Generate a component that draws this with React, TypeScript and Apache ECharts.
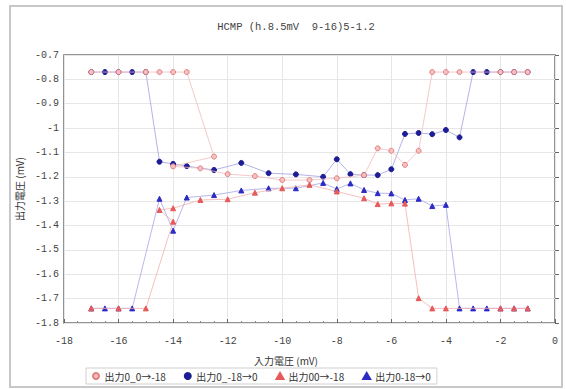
import React, { useEffect, useRef } from "react";
import * as echarts from "echarts";

const TITLE = "HCMP (h.8.5mV  9-16)5-1.2";
const X_NAME = "入力電圧 (mV)";
const Y_NAME = "出力電圧 (mV)";
const SERIES_NAMES = ["出力0_0→-18", "出力0_-18→0", "出力00→-18", "出力0-18→0"];

// Series A: pink circles (sweep 0 → -18)
const xA = [-1, -1.5, -2, -3.5, -4, -4.5, -5, -5.5, -6, -6.5, -7, -8, -9, -10, -11, -12, -13, -14, -12.5, -13.5, -14, -14.5, -15, -16, -17];
const yA = [-0.77, -0.77, -0.77, -0.77, -0.77, -0.77, -1.093, -1.151, -1.093, -1.083, -1.193, -1.206, -1.213, -1.213, -1.197, -1.189, -1.165, -1.157, -1.117, -0.77, -0.77, -0.77, -0.77, -0.77, -0.77];

// Series B: dark blue circles (sweep -18 → 0)
const xB = [-17, -16.5, -16, -15.5, -15, -14.5, -14, -13.5, -12.5, -11.5, -10.5, -9.5, -8.5, -8, -7.5, -7, -6.5, -6, -5.5, -5, -4.5, -4, -3.5, -3, -2.5, -2, -1.5, -1];
const yB = [-0.77, -0.77, -0.77, -0.77, -0.77, -1.138, -1.147, -1.156, -1.172, -1.143, -1.185, -1.19, -1.2, -1.128, -1.189, -1.193, -1.193, -1.169, -1.024, -1.02, -1.025, -1.008, -1.038, -0.77, -0.77, -0.77, -0.77, -0.77];

// Series C: red triangles (sweep 0 → -18)
const xC = [-1, -1.5, -2, -4, -4.5, -5, -5.5, -6, -6.5, -7, -8, -9, -10, -11, -12, -13, -14, -14.5, -14, -15, -16, -17];
const yC = [-1.74, -1.74, -1.74, -1.74, -1.74, -1.698, -1.31, -1.309, -1.312, -1.288, -1.26, -1.233, -1.247, -1.265, -1.292, -1.295, -1.329, -1.336, -1.384, -1.74, -1.74, -1.74];

// Series D: blue triangles (sweep -18 → 0)
const xD = [-17, -16.5, -16, -15.5, -14.5, -14, -13.5, -12.5, -11.5, -10.5, -9.5, -8.5, -8, -7.5, -7, -6.5, -6, -5.5, -5, -4.5, -4, -3.5, -3, -2.5, -2, -1.5, -1];
const yD = [-1.74, -1.74, -1.74, -1.74, -1.29, -1.421, -1.285, -1.275, -1.256, -1.247, -1.247, -1.225, -1.25, -1.227, -1.254, -1.267, -1.268, -1.295, -1.29, -1.32, -1.315, -1.74, -1.74, -1.74, -1.74, -1.74, -1.74];

const X_TICKS = ["-18", "-16", "-14", "-12", "-10", "-8", "-6", "-4", "-2", "0"];
const Y_TICKS = ["-0.7", "-0.8", "-0.9", "-1", "-1.1", "-1.2", "-1.3", "-1.4", "-1.5", "-1.6", "-1.7", "-1.8"];

const FONT = "'Noto Sans CJK JP', 'Noto Sans', sans-serif";
const MONO = "'Liberation Mono', 'DejaVu Sans Mono', monospace";

function pairs(xs: number[], ys: number[]) {
  return xs.map((x, i) => [x, ys[i]]);
}

export default function App() {
  const ref = useRef<HTMLDivElement>(null);
  useEffect(() => {
    if (!ref.current) return;
    const chart = echarts.init(ref.current, undefined, { renderer: "svg" });
    const styles = [
      { symbol: "circle", fill: "#f8c0c0", border: "#e08080", line: "#f2bcbc" },
      { symbol: "circle", fill: "#1c1c96", border: "#1c1c96", line: "#a0a0e0" },
      { symbol: "triangle", fill: "#e65a5a", border: "#e65a5a", line: "#f2b0b0" },
      { symbol: "triangle", fill: "#2c2cc4", border: "#2c2cc4", line: "#a6a6ea" },
    ];
    const datas = [pairs(xA, yA), pairs(xB, yB), pairs(xC, yC), pairs(xD, yD)];
    chart.setOption({
      animation: false,
      backgroundColor: "#ffffff",
      title: {
        text: TITLE,
        left: 291,
        top: 16,
        textAlign: "center",
        textStyle: { fontSize: 10.5, fontWeight: "normal", color: "#444", fontFamily: MONO },
      },
      graphic: [
        {
          type: "rect",
          shape: { x: 10, y: 6, width: 552, height: 381 },
          style: { fill: "none", stroke: "#c8c8c8", lineWidth: 2 },
          silent: true,
        },
        {
          type: "text",
          x: 286,
          y: 360,
          style: {
            text: X_NAME,
            fontSize: 10,
            fill: "#333",
            fontFamily: FONT,
            align: "center",
            verticalAlign: "middle",
          },
        },
      ],
      legend: {
        left: 86,
        top: 368,
        itemGap: 18,
        itemWidth: 7,
        itemHeight: 6,
        padding: [3, 6, 3, 6],
        borderColor: "#d0d0d0",
        borderWidth: 1,
        textStyle: { fontSize: 10, color: "#333", fontFamily: FONT },
        data: SERIES_NAMES.map((n, i) => ({ name: n, icon: styles[i].symbol })),
      },
      grid: {
        left: 64,
        top: 55,
        right: 11,
        bottom: 66,
        show: true,
        borderColor: "#707070",
        borderWidth: 1.5,
        backgroundColor: "#fff",
      },
      xAxis: {
        type: "value",
        min: -18,
        max: 0,
        interval: 2,
        axisLine: { show: false },
        axisTick: { show: true, inside: true, length: 4, lineStyle: { color: "#666" } },
        minorTick: { show: true, splitNumber: 4, length: 2, lineStyle: { color: "#888" } },
        splitLine: { show: true, lineStyle: { color: "#e6e6e6", width: 1 } },
        axisLabel: {
          fontSize: 10,
          color: "#444",
          margin: 13,
          fontFamily: MONO,
          formatter: (v: number) => X_TICKS[Math.round((v + 18) / 2)] ?? String(v),
        },
      },
      yAxis: {
        type: "value",
        min: -1.8,
        max: -0.7,
        interval: 0.1,
        name: Y_NAME,
        nameLocation: "middle",
        nameGap: 33,
        nameRotate: 90,
        nameTextStyle: { fontSize: 10, color: "#333", fontFamily: FONT },
        axisLine: { show: false },
        axisTick: { show: true, inside: true, length: 4, lineStyle: { color: "#666" } },
        splitLine: { show: true, lineStyle: { color: "#e6e6e6", width: 1 } },
        axisLabel: {
          fontSize: 10,
          color: "#444",
          margin: 5,
          fontFamily: MONO,
          formatter: (v: number) => Y_TICKS[Math.round((-0.7 - v) / 0.1)] ?? String(v),
        },
      },
      series: SERIES_NAMES.map((n, i) => ({
        name: n,
        type: "line",
        data: datas[i],
        symbol: styles[i].symbol,
        symbolSize: 5,
        showSymbol: true,
        lineStyle: { color: styles[i].line, width: 0.8 },
        itemStyle: { color: styles[i].fill, borderColor: styles[i].border, borderWidth: 1 },
        z: i === 0 || i === 2 ? 3 : 2,
      })),
    });
    return () => chart.dispose();
  }, []);
  return (
    <div
      ref={ref}
      style={{ position: "absolute", left: 0, top: 0, width: 566, height: 389 }}
    />
  );
}
